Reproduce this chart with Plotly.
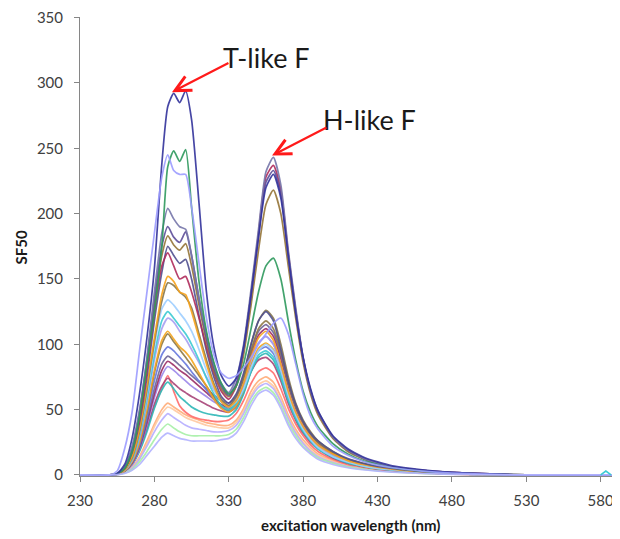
import plotly.graph_objects as go

WAVELENGTH = [230, 250, 255, 260, 265, 270, 275, 280, 285, 289, 293, 297, 301, 305, 310, 315, 320, 325, 330,
              335, 340, 345, 350, 355, 360, 365, 370, 375, 380, 385, 390, 400, 410, 420, 430, 440, 460, 480,
              500, 530, 593]

peach = [0,0,0.3,2,6,14,26,39,50,55,52,49,46,44,42,40,39,38,38,42,51,64,72,75,71,60,46,35,27,21,16,11,7.5,5.5,4,3,1.5,0.7,0.3,0,0]
peach2 = [0,0,0.3,2,5.5,13,24,37,47,52,50,47,44,42,40,38,37,36,36,40,49,61,69,72,68,57,44,33,25,19,15,10,7,5,3.7,2.8,1.4,0.7,0.3,0,0]
lavender3 = [0,0,0.3,2,5,12,22,33,42,47,44,41,38,36,35,34,33,33,34,38,47,59,67,70,66,56,43,32,24,18,14,9.5,6.5,4.7,3.5,2.6,1.3,0.6,0.2,0,0]
lightgreen = [0,0,0.3,1.5,4,10,18,27,35,39,36,33,31,30,30,30,30,30,31,35,44,56,64,67,63,53,40,30,22,17,13,9,6,4.4,3.2,2.4,1.2,0.6,0.2,0,0]
red = [0,0,0.5,3,9,20,36,52,66,76,64,53,48,45,43,42,41,41,42,47,57,70,79,82,78,66,51,39,30,23,18,12,8,6,4.3,3.2,1.7,0.8,0.3,0,0]
maroon3 = [0,0,0.5,3,8,19,35,54,68,74,70,66,63,60,57,54,51,49,48,52,63,79,88,90,85,72,55,42,32,25,20,13,9,6.5,4.7,3.5,1.8,0.9,0.4,0,0]
teal = [0,0,0.5,3,8,18,33,51,65,71,66,60,56,52,49,47,46,45,45,50,62,79,90,93,88,74,57,43,33,26,20,13.5,9,6.5,4.8,3.6,1.9,0.9,0.4,0,0]
lavpurple = [0,0,0.5,3,8,20,38,59,76,83,80,76,72,68,64,60,56,53,51,56,69,88,101,106,100,84,64,48,37,29,23,15,10.5,7.5,5.5,4,2,1,0.4,0,0]
maroon2 = [0,0,0.5,3,9,21,40,62,80,87,84,80,77,73,68,63,58,54,52,57,72,92,107,112,106,89,68,51,39,30,24,16,11,8,6,4.3,2.2,1.1,0.5,0,0]
purplegrey = [0,0,0.5,3,9,22,42,66,85,91,88,84,80,76,71,66,61,57,55,60,74,95,110,115,109,92,70,52,40,31,25,17,11.5,8.5,6,4.5,2.3,1.2,0.5,0,0]
blue = [0,0,0.5,3,10,23,45,72,92,98,95,90,85,79,72,65,58,52,49,54,66,84,95,98,93,78,60,45,35,27,21,14,9.5,7,5,3.8,2,1,0.4,0,0]
brown2 = [0,0,0.5,3,10,25,48,78,100,108,102,96,90,84,76,68,60,53,50,56,72,95,112,118,112,94,71,53,40,31,25,17,11.5,8.5,6,4.5,2.3,1.2,0.5,0,0]
orange2 = [0,0,0.5,3,10,25,50,80,103,110,104,98,94,88,78,68,58,51,48,53,65,84,97,101,96,81,62,47,36,28,22,15,10,7,5,3.8,2,1,0.4,0,0]
lavender2 = [0,0,0.5,3.5,11,28,55,88,112,120,117,110,104,96,86,75,65,57,54,58,70,88,101,106,100,84,64,48,37,29,23,15,10.5,7.5,5.5,4,2,1,0.4,0,0]
cyan = [0,0,0.5,4,12,30,58,92,118,125,120,114,108,100,88,74,62,53,50,55,65,80,92,95,90,76,58,44,34,26,20,14,9.5,7,5,3.8,2,1,0.4,0,0]
lightblue = [0,0,0.5,4,13,32,62,98,127,134,130,124,118,110,96,80,66,56,52,56,66,82,95,100,95,80,61,46,35,27,21,14,10,7,5,4,2,1,0.4,0,0]
olive = [0,0,0.5,4,13,33,65,102,133,147,145,140,136,128,108,88,70,58,53,60,76,100,118,126,120,100,75,55,42,33,26,18,12,9,6.5,5,2.5,1.3,0.6,0,0]
orange = [0,0,0.5,4,14,35,68,105,138,152,148,140,138,125,105,85,68,56,52,57,70,90,105,110,103,85,64,48,37,29,23,16,11,8,6,4.5,2.3,1.2,0.5,0,0]
slate = [0,0,1,5,17,40,75,118,155,175,168,162,165,150,122,95,75,60,55,62,78,100,118,125,118,96,72,54,41,32,26,18,12.5,9,6.5,5,2.5,1.3,0.6,0,0]
maroon = [0,0,1,5,18,42,80,125,160,170,160,150,152,140,120,98,78,64,58,68,96,138,185,228,237,218,170,126,89,64,48,29,19,13,9,6,3.5,2,1,0,0]
brown = [0,0,1,5,18,45,85,130,168,183,176,172,177,160,130,102,80,66,60,68,92,130,172,207,218,200,160,120,86,62,46,28,18,12.5,8.5,6,3,1.7,0.8,0,0]
purple = [0,0,1,6,20,48,88,135,175,190,182,178,186,168,135,105,82,68,61,70,97,138,183,224,233,215,168,125,89,64,48,29,19,13,9,6,3.5,2,1,0,0]
greypurple = [0,0,1,6,22,50,90,140,185,204,196,190,188,168,135,108,85,70,63,74,100,142,188,232,243,222,172,128,90,65,49,29,19,13,9,6,3.5,2,1,0,0]
green = [0,0,1,5,18,45,85,125,175,236,248,240,249,205,148,110,86,70,62,68,85,112,140,160,166,150,118,88,64,48,37,24,16,11,8,5.5,3,1.5,0.7,0,0]
navy = [0,0,1,8,28,62,105,158,238,282,292,285,294,272,208,140,98,76,68,74,98,138,182,220,230,212,168,124,90,66,49,30,20,14,10,7,4,2,1,0,0]
lavender = [0,0,3,20,48,95,140,185,228,245,233,230,230,205,162,120,92,78,74,76,82,90,100,108,116,120,108,85,62,45,35,22,15,10.5,7.5,5.5,3,1.5,0.7,0,0]
lavender4 = [0,0,0.2,1.2,3.5,8,15,22,29,32,30,28,27,26,26,26,26,27,28,32,41,53,62,65,61,51,38,28,21,16,12,8,5.5,4,3,2.2,1.1,0.5,0.2,0,0]

SPIKE_X = [580, 583.5, 587]
SPIKE_Y = [0, 3, 0]

X_TICKS = [230, 280, 330, 380, 430, 480, 530, 580]
Y_TICKS = [0, 50, 100, 150, 200, 250, 300, 350]

series = [
    (peach, "#ffad7a"), (peach2, "#ffc9a0"), (lavender3, "#b6aeff"), (lightgreen, "#a7f0a7"),
    (red, "#ff6b6b"), (maroon3, "#a84478"), (teal, "#2fb8b8"), (lavpurple, "#9c87ea"),
    (maroon2, "#9b2d66"), (purplegrey, "#6e6699"), (blue, "#6678dd"), (brown2, "#8f7a45"),
    (orange2, "#f3a51f"), (lavender2, "#a79ff2"), (cyan, "#3ccbd3"), (lightblue, "#9fcfff"),
    (olive, "#86774e"), (orange, "#f7a21b"), (slate, "#505090"), (maroon, "#b02c5c"),
    (brown, "#957538"), (purple, "#5e4e9a"), (greypurple, "#7676aa"), (green, "#2f9a5e"),
    (navy, "#33339c"), (lavender, "#9d9dff"), (lavender4, "#b3b3ff"),
]

fig = go.Figure()
for vals, col in series:
    fig.add_trace(go.Scatter(x=WAVELENGTH, y=vals, mode="lines",
                             line=dict(color=col, width=1.7, shape="spline", smoothing=0.6),
                             opacity=0.9, showlegend=False, hoverinfo="skip"))
fig.add_trace(go.Scatter(x=SPIKE_X, y=SPIKE_Y, mode="lines", line=dict(color="#3ccbd3", width=1.6),
                         showlegend=False, hoverinfo="skip"))

font = "Lato, 'Open Sans', sans-serif"
fig.update_layout(
    width=612, height=531,
    margin=dict(l=72, r=0, t=6, b=63),
    paper_bgcolor="white", plot_bgcolor="white",
    font=dict(family=font, size=15, color="#404040"),
    xaxis=dict(range=[230, 593], tickvals=X_TICKS, ticks="outside", ticklen=5, tickcolor="#868686",
               showline=True, linecolor="#868686", linewidth=1, showgrid=False, zeroline=False,
               ticklabelstandoff=6, layer="below traces", ticklabeloverflow="allow"),
    yaxis=dict(range=[-0.8, 350.5], tickvals=Y_TICKS, ticks="outside", ticklen=5, tickcolor="#868686",
               showline=True, linecolor="#868686", linewidth=1, showgrid=False, zeroline=False,
               ticklabelstandoff=8, layer="below traces", ticklabeloverflow="allow"),
    annotations=[
        dict(text="<b>excitation wavelength (nm)</b>", xref="paper", yref="paper", x=0.5, y=0,
             yshift=-49, showarrow=False, yanchor="middle", font=dict(size=15, color="#1a1a1a")),
        dict(text="<b>SF50</b>", xref="paper", yref="paper", x=0, y=0.5, xshift=-60, yshift=-1,
             textangle=-90, showarrow=False, xanchor="center", font=dict(size=15, color="#1a1a1a")),
        dict(text="T-like F", x=355.7, y=319.7, xref="x", yref="y", showarrow=False,
             font=dict(size=27, color="#1a1a1a")),
        dict(text="H-like F", x=424.3, y=271.8, xref="x", yref="y", showarrow=False,
             font=dict(size=27, color="#1a1a1a")),
        dict(text="", x=291.8, y=293, ax=330.8, ay=315.9, axref="x", ayref="y", xref="x", yref="y",
             showarrow=True, arrowhead=5, arrowsize=1.4, arrowwidth=2.2, arrowcolor="#ff1a1a"),
        dict(text="", x=359.1, y=244.5, ax=396.7, ay=266.5, axref="x", ayref="y", xref="x", yref="y",
             showarrow=True, arrowhead=5, arrowsize=1.4, arrowwidth=2.2, arrowcolor="#ff1a1a"),
    ],
)

fig.write_html("out.html")
